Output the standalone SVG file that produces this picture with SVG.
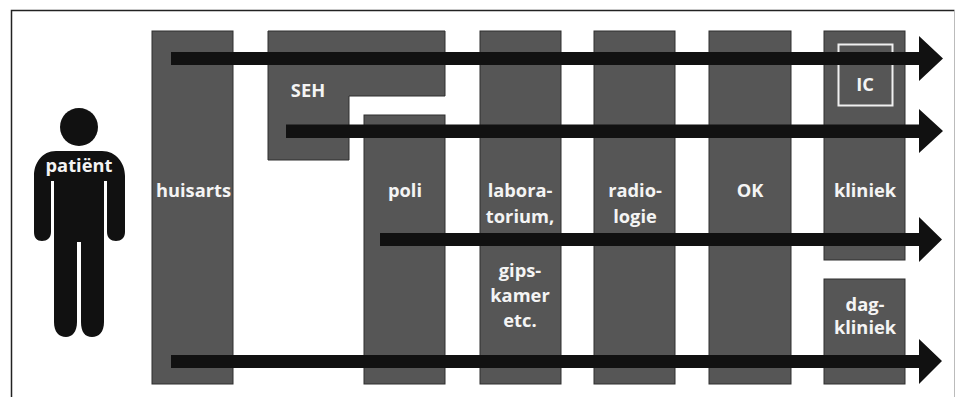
<svg xmlns="http://www.w3.org/2000/svg" width="955" height="397" viewBox="0 0 955 397">
<style>
.box{fill:#565656;stroke:#2e2e2e;stroke-width:1}
.lbl{font-family:"Open Sans","Noto Sans","Liberation Sans",sans-serif;font-weight:700;font-size:18.3px;fill:#f4f4f4;text-anchor:middle}
.arrow{fill:#111}
</style>
<rect width="955" height="397" fill="#fff"/>
<path d="M11.500 397V10.500H954.500" fill="none" stroke="#222" stroke-width="1.500"/>
<path d="M954.500 10.500V397" fill="none" stroke="#bbb" stroke-width="1"/>
<g id="patient">
<circle cx="79" cy="127" r="19" fill="#111"/>
<path fill="#111" d="M56 151H102C116 151 125 163 125 176V232C125 238 121 241 116 241C111 241 107 238 107 232V181H104V322C104 332 99 337 92 337C85 337 81 332 81 322V242H77V322C77 332 72 337 66 337C59 337 54 332 54 322V181H51V232C51 238 47 241 42 241C37 241 34 238 34 232V176C34 163 42 151 56 151Z"/>
<text class="lbl" x="79" y="172">patiënt</text>
</g>
<g id="huisarts"><rect class="box" x="152" y="31" width="81" height="353"/><text class="lbl" x="193.500" y="197">huisarts</text></g>
<g id="seh"><path class="box" d="M268 31H445V96H349V160H268Z"/><text class="lbl" x="308" y="97">SEH</text></g>
<g id="poli"><rect class="box" x="364" y="115" width="81" height="269"/><text class="lbl" x="405" y="197">poli</text></g>
<g id="lab"><rect class="box" x="480" y="31" width="81" height="353"/>
<text class="lbl" x="520" y="197">labora-</text><text class="lbl" x="520" y="222.500">torium,</text>
<text class="lbl" x="520" y="277">gips-</text><text class="lbl" x="520" y="302">kamer</text><text class="lbl" x="520" y="327">etc.</text></g>
<g id="radiologie"><rect class="box" x="594" y="31" width="81" height="353"/><text class="lbl" x="635" y="197">radio-</text><text class="lbl" x="635" y="222.500">logie</text></g>
<g id="ok"><rect class="box" x="709" y="31" width="82" height="353"/><text class="lbl" x="750" y="197">OK</text></g>
<g id="kliniek"><rect class="box" x="824" y="31" width="81" height="229"/><text class="lbl" x="865" y="197">kliniek</text></g>
<g id="ic"><rect x="838.500" y="44.500" width="54" height="61" fill="none" stroke="#f0f0f0" stroke-width="2"/><text class="lbl" x="865" y="91">IC</text></g>
<g id="dagkliniek"><rect class="box" x="824" y="279" width="81" height="105"/><text class="lbl" x="865" y="311">dag-</text><text class="lbl" x="865" y="334">kliniek</text></g>
<g id="connectors">
<path class="arrow" d="M171 52H919V36L943 58.500L919 81V65H171Z"/>
<path class="arrow" d="M286 124.500H919V109L943 131L919 153V138H286Z"/>
<path class="arrow" d="M380 233H919V217L942 239.500L919 262V246H380Z"/>
<path class="arrow" d="M171 355H919V339L942 361L919 384V368H171Z"/>
</g>
</svg>
